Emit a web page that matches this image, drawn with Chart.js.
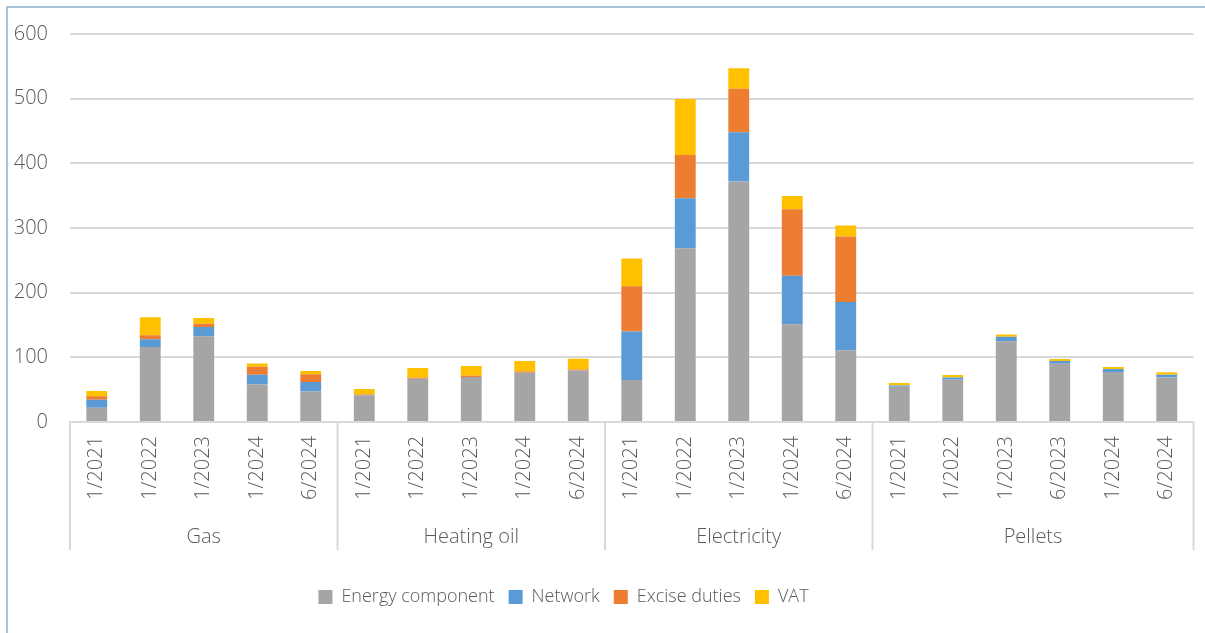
<!DOCTYPE html>
<html>
<head>
<meta charset="utf-8">
<script src="https://cdn.jsdelivr.net/npm/chart.js@4/dist/chart.umd.min.js"></script>
<style>
  html, body { margin: 0; padding: 0; background: #fff; }
  #wrap { position: relative; width: 1205px; height: 633px; }
</style>
</head>
<body>
<div id="wrap"><canvas id="c" width="1205" height="633"></canvas></div>
<script>
// ---- Data ----
const categories = ['1/2021','1/2022','1/2023','1/2024','6/2024',
                    '1/2021','1/2022','1/2023','1/2024','6/2024',
                    '1/2021','1/2022','1/2023','1/2024','6/2024',
                    '1/2021','1/2022','1/2023','6/2023','1/2024','6/2024'];
const groupNames = ['Gas', 'Heating oil', 'Electricity', 'Pellets'];
const groupSizes = [5, 5, 5, 6];
const seriesNames = ['Energy component', 'Network', 'Excise duties', 'VAT'];
const energy  = [22, 116, 132.5, 58, 47,   41.5, 67, 69.5, 76, 79.5,   65, 268.5, 372, 151, 111,   54.5, 65.5, 125, 90, 77.5, 69];
const network = [12.5, 12, 14.5, 15, 15,   0, 0, 0, 0, 0,              75, 77.5, 76, 75, 74.5,     2, 3.5, 7, 4.5, 4.5, 4];
const excise  = [5.5, 6, 5, 12.5, 12,      1, 1.5, 2, 2, 1.5,          70, 67, 67.5, 103, 101.5,   0, 0, 0, 0, 0, 0];
const vat     = [8, 28, 9, 5, 5,           8.5, 15, 15, 16.5, 17,      43, 86.5, 31.5, 20.5, 17,   4, 3.5, 3.5, 3, 3, 4];
const yTicks = [0, 100, 200, 300, 400, 500, 600];

const colors = ['#A5A5A5', '#5B9BD5', '#ED7D31', '#FFC000'];
const textColor = '#595959';
const lineColor = '#D9D9D9';
const FONT = "'Open Sans', 'Noto Sans', sans-serif";
const WEIGHT = 300;

const seriesData = [energy, network, excise, vat];

const frame = {
  id: 'frame',
  beforeDraw(chart) {
    const ctx = chart.ctx;
    ctx.save();
    ctx.strokeStyle = '#8DB3CA';
    ctx.lineWidth = 1.5;
    ctx.beginPath();
    ctx.moveTo(7, 633);
    ctx.lineTo(7, 7);
    ctx.lineTo(1205, 7);
    ctx.stroke();
    ctx.restore();
  }
};

// shift the legend a little to the left, as in the original
const legendShift = {
  id: 'legendShift',
  afterLayout(chart) {
    if (chart.legend) {
      chart.legend.left -= 34;
      chart.legend.right -= 34;
    }
  }
};

const groups = {
  id: 'groups',
  afterDraw(chart) {
    const x = chart.scales.x;
    const area = chart.chartArea;
    const ctx = chart.ctx;
    const bottom = area.bottom + 128;
    const labelY = area.bottom + 115;
    ctx.save();
    ctx.strokeStyle = lineColor;
    ctx.lineWidth = 2;
    ctx.fillStyle = textColor;
    ctx.font = WEIGHT + ' 20px ' + FONT;
    ctx.textAlign = 'center';
    ctx.textBaseline = 'middle';
    const half = (x.getPixelForValue(1) - x.getPixelForValue(0)) / 2;
    let idx = 0;
    const bounds = [];
    groupSizes.forEach((n, g) => {
      const start = x.getPixelForValue(idx) - half;
      const end = x.getPixelForValue(idx + n - 1) + half;
      bounds.push(start);
      if (g === groupSizes.length - 1) bounds.push(end);
      ctx.fillText(groupNames[g], (start + end) / 2, labelY);
      idx += n;
    });
    bounds.forEach(b => {
      ctx.beginPath();
      ctx.moveTo(b, area.bottom);
      ctx.lineTo(b, bottom);
      ctx.stroke();
    });
    ctx.restore();
  }
};

new Chart(document.getElementById('c'), {
  type: 'bar',
  data: {
    labels: categories,
    datasets: seriesNames.map((name, i) => ({
      label: name,
      data: seriesData[i],
      backgroundColor: colors[i],
      borderWidth: 0,
      categoryPercentage: 1,
      barPercentage: 0.39
    }))
  },
  options: {
    responsive: false,
    animation: false,
    layout: { padding: { top: 24, right: 10, bottom: 17, left: 0 } },
    plugins: {
      legend: {
        position: 'bottom',
        labels: {
          color: textColor,
          font: { family: FONT, size: 18, weight: WEIGHT },
          boxWidth: 14,
          boxHeight: 14,
          padding: 14
        }
      },
      tooltip: { enabled: false }
    },
    scales: {
      x: {
        stacked: true,
        grid: { display: false, drawTicks: false },
        border: { display: true, color: lineColor, width: 2 },
        ticks: {
          color: textColor,
          font: { family: FONT, size: 20, weight: WEIGHT },
          minRotation: 90,
          maxRotation: 90,
          autoSkip: false,
          padding: 14
        },
        afterFit(scale) { scale.height = 152; }
      },
      y: {
        stacked: true,
        min: 0,
        max: 600,
        afterBuildTicks(scale) { scale.ticks = yTicks.map(v => ({ value: v })); },
        grid: { color: lineColor, lineWidth: 2, drawTicks: false },
        border: { display: false },
        ticks: {
          color: textColor,
          font: { family: FONT, size: 20, weight: WEIGHT },
          padding: 22
        },
        afterFit(scale) { scale.width = 70; }
      }
    }
  },
  plugins: [frame, legendShift, groups]
});
</script>
</body>
</html>
